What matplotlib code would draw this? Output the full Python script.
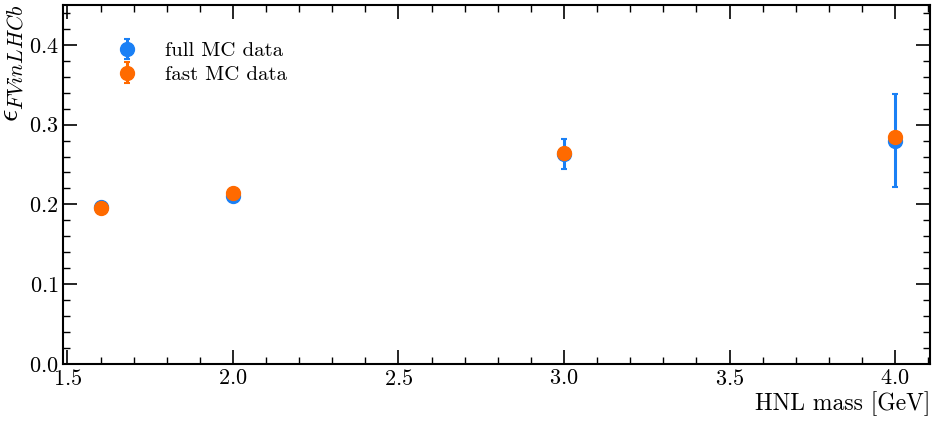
import numpy as np
import matplotlib
matplotlib.use("Agg")
import matplotlib.pyplot as plt
from matplotlib.ticker import MultipleLocator

plt.rcParams['font.family'] = 'serif'
plt.rcParams['font.serif'] = ['cmr10']
plt.rcParams['mathtext.fontset'] = 'cm'
plt.rcParams['axes.formatter.use_mathtext'] = True
plt.rcParams['font.size'] = 15

# values
mass = [1.6, 2.0, 3.0, 4.0]
full_eff = [0.197, 0.210, 0.263, 0.280]
full_err = [0.004, 0.004, 0.019, 0.058]
fast_eff = [0.195, 0.214, 0.264, 0.284]
fast_err = [0.003, 0.003, 0.004, 0.005]

fig, ax = plt.subplots(figsize=(9.33, 4.23), dpi=100)

ax.errorbar(mass, full_eff, yerr=full_err, fmt='o', color='#1a80f5', ms=10,
            elinewidth=2.2, capsize=2.5, capthick=1.5, label='full MC data')
ax.errorbar(mass, fast_eff, yerr=fast_err, fmt='o', color='#ff6a00', ms=10,
            elinewidth=2.2, capsize=2.5, capthick=1.5, label='fast MC data')

ax.set_ylim(0, 0.45)
ax.set_xlim(1.488, 4.106)
ax.xaxis.set_major_locator(MultipleLocator(0.5))
ax.xaxis.set_minor_locator(MultipleLocator(0.1))
ax.yaxis.set_major_locator(MultipleLocator(0.1))
ax.yaxis.set_minor_locator(MultipleLocator(0.02))
ax.tick_params(which='both', direction='in', top=True, right=True, labelsize=16)
ax.tick_params(which='major', length=10, width=1.2)
ax.tick_params(which='minor', length=5, width=1.0)
for s in ax.spines.values():
    s.set_linewidth(1.5)

ax.set_xlabel('HNL mass [GeV]', loc='right', fontsize=17, labelpad=2)
ax.set_ylabel(r'$\epsilon_{FV in LHCb}$', loc='top', fontsize=22, labelpad=2)
ax.legend(loc='upper left', frameon=False, bbox_to_anchor=(0.028, 0.95),
          labelspacing=0.25, handletextpad=0.8, fontsize=15)

fig.subplots_adjust(left=0.068, right=0.997, top=0.988, bottom=0.14)
fig.savefig('out.png', dpi=100)
